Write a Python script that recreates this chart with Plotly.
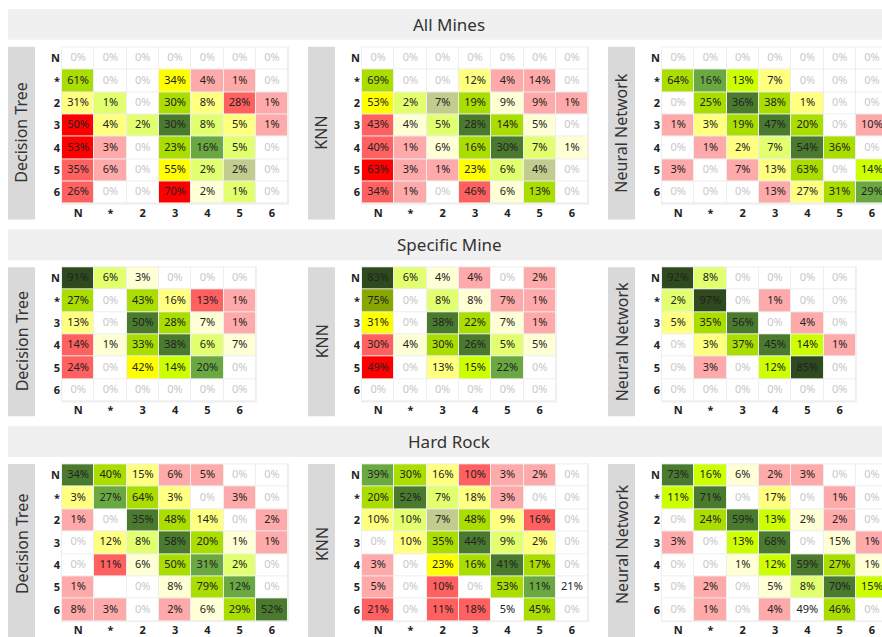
import plotly.graph_objects as go

W, H = 882, 637
FONT = "Noto Sans"

section_titles = ["All Mines", "Specific Mine", "Hard Rock"]
model_names = ["Decision Tree", "KNN", "Neural Network"]

labels_full = ["N", "*", "2", "3", "4", "5", "6"]
labels_specific = ["N", "*", "3", "4", "5", "6"]

# ---- All Mines ----
all_dt_val = [
    [0, 0, 0, 0, 0, 0, 0],
    [61, 0, 0, 34, 4, 1, 0],
    [31, 1, 0, 30, 8, 28, 1],
    [50, 4, 2, 30, 8, 5, 1],
    [53, 3, 0, 23, 16, 5, 0],
    [35, 6, 0, 55, 2, 2, 0],
    [26, 0, 0, 70, 2, 1, 0],
]
all_dt_cls = ["wwwwwww", "gwwYppw", "ylwgyrp", "Ryldlyp", "Rpwgmlw", "rpwYlow", "rwwRclw"]

all_knn_val = [
    [0, 0, 0, 0, 0, 0, 0],
    [69, 0, 0, 12, 4, 14, 0],
    [53, 2, 7, 19, 9, 9, 1],
    [43, 4, 5, 28, 14, 5, 0],
    [40, 1, 6, 16, 30, 7, 1],
    [63, 3, 1, 23, 6, 4, 0],
    [34, 1, 0, 46, 6, 13, 0],
]
all_knn_cls = ["wwwwwww", "gwwyppw", "Ylogcpp", "rcldgcw", "rpcgdlc", "RppYlow", "rpwrcgw"]

all_nn_val = [
    [0, 0, 0, 0, 0, 0, 0],
    [64, 16, 13, 7, 0, 0, 0],
    [0, 25, 36, 38, 1, 0, 0],
    [1, 3, 19, 47, 20, 0, 10],
    [0, 1, 2, 7, 54, 36, 0],
    [3, 0, 7, 13, 63, 0, 14],
    [0, 0, 0, 13, 27, 31, 29],
]
all_nn_cls = ["wwwwwww", "gmLywww", "wgdgyww", "pygdgwp", "wpyldgw", "pwpygwL", "wwwpygm"]

# ---- Specific Mine ----
spec_dt_val = [
    [91, 6, 3, 0, 0, 0],
    [27, 0, 43, 16, 13, 1],
    [13, 0, 50, 28, 7, 1],
    [14, 1, 33, 38, 6, 7],
    [24, 0, 42, 14, 20, 0],
    [0, 0, 0, 0, 0, 0],
]
spec_dt_cls = ["Dlcwww", "gwgyrp", "ywdgcp", "rcgdlc", "rwYLmw", "wwwwww"]

spec_knn_val = [
    [83, 6, 4, 4, 0, 2],
    [75, 0, 8, 8, 7, 1],
    [31, 0, 38, 22, 7, 1],
    [30, 4, 30, 26, 5, 5],
    [49, 0, 13, 15, 22, 0],
    [0, 0, 0, 0, 0, 0],
]
spec_knn_cls = ["Dlcpwp", "Owlcpp", "Ywdgcp", "rcgdlc", "RwyLmw", "wwwwww"]

spec_nn_val = [
    [92, 8, 0, 0, 0, 0],
    [2, 97, 0, 1, 0, 0],
    [5, 35, 56, 0, 4, 0],
    [0, 3, 37, 45, 14, 1],
    [0, 3, 0, 12, 85, 0],
    [0, 0, 0, 0, 0, 0],
]
spec_nn_cls = ["Dlwwww", "lDwpww", "ygdwpw", "wygdLp", "wpwLDw", "wwwwww"]

# ---- Hard Rock ----
hard_dt_val = [
    [34, 40, 15, 6, 5, 0, 0],
    [3, 27, 64, 3, 0, 3, 0],
    [1, 0, 35, 48, 14, 0, 2],
    [0, 12, 8, 58, 20, 1, 1],
    [0, 11, 6, 50, 31, 2, 0],
    [1, None, 0, 8, 79, 12, 0],
    [8, 3, 0, 2, 6, 29, 52],
]
hard_dt_cls = ["dgyppww", "ymgywpw", "pwdgywp", "wyldgcp", "wrcgmlw", "pwwcgmw", "ppwpcgd"]

hard_knn_val = [
    [39, 30, 16, 10, 3, 2, 0],
    [20, 52, 7, 18, 3, 0, 0],
    [10, 10, 7, 48, 9, 16, 0],
    [0, 10, 35, 44, 9, 2, 0],
    [3, 0, 23, 16, 41, 17, 0],
    [5, 0, 10, 0, 53, 11, 21],
    [21, 0, 11, 18, 5, 45, 0],
]
hard_knn_cls = ["mgyrppw", "gdlypww", "ylogyrw", "wygdlyw", "pwYgdgw", "pwrwgmw", "rwrrwgw"]

hard_nn_val = [
    [73, 16, 6, 2, 3, 0, 0],
    [11, 71, 0, 17, 0, 1, 0],
    [0, 24, 59, 13, 2, 2, 0],
    [3, 0, 13, 68, 0, 15, 1],
    [0, 0, 1, 12, 59, 27, 1],
    [0, 2, 0, 5, 8, 70, 15],
    [0, 1, 0, 4, 49, 46, 0],
]
hard_nn_cls = ["dLcppww", "Ldwywpw", "wgdLcpw", "pwLdwcp", "wwcLdgc", "wpwcldL", "wpwpwgw"]

# cell fill classes
palette = {
    "w": "#ffffff",  # empty
    "p": "#ffaaaa",  # pink
    "r": "#ff6060",  # salmon
    "R": "#ff0000",  # red
    "Y": "#ffff00",  # yellow
    "y": "#ffff80",  # light yellow
    "c": "#ffffd5",  # cream
    "l": "#e2ff70",  # pale lime
    "L": "#ccff00",  # lime
    "g": "#aadd00",  # yellow green
    "o": "#c2cc8e",  # olive grey
    "O": "#88a800",  # olive
    "m": "#6aa842",  # mid green
    "d": "#4a7a2e",  # dark green
    "D": "#2e4a1e",  # deepest green
}
codes = list(palette.keys())
n_codes = len(codes)
colorscale = []
for i, k in enumerate(codes):
    colorscale.append([i / n_codes, palette[k]])
    colorscale.append([(i + 1) / n_codes, palette[k]])

panels = [
    [(all_dt_val, all_dt_cls), (all_knn_val, all_knn_cls), (all_nn_val, all_nn_cls)],
    [(spec_dt_val, spec_dt_cls), (spec_knn_val, spec_knn_cls), (spec_nn_val, spec_nn_cls)],
    [(hard_dt_val, hard_dt_cls), (hard_knn_val, hard_knn_cls), (hard_nn_val, hard_nn_cls)],
]
section_labels = [labels_full, labels_specific, labels_full]

# pixel geometry
cell_w = 32.3
panel_x0 = [62, 362, 662]
box_x = [(8, 35), (308, 335), (608, 635)]
cells_y = [(47.7, 205.0), (269.0, 404.0), (467.3, 625.0)]
bar_y = [(9, 40), (231, 262), (429, 460)]
box_y = [(47, 221), (269, 419), (467, 645)]
label_mid_y = [134, 344, 548]

fig = go.Figure()
layout_axes = {}
shapes = []
annotations = []
pad = 1.0
idx = 0

tick_font = dict(family=FONT, size=11, color="#222222", weight="bold")

for s in range(3):
    labs = section_labels[s]
    n = len(labs)
    y_top, y_bot = cells_y[s]
    cell_h = (y_bot - y_top) / n
    for m in range(3):
        vals, cls = panels[s][m]
        idx += 1
        xa = "x" if idx == 1 else f"x{idx}"
        ya = "y" if idx == 1 else f"y{idx}"
        xkey = "xaxis" if idx == 1 else f"xaxis{idx}"
        ykey = "yaxis" if idx == 1 else f"yaxis{idx}"

        x0 = panel_x0[m]
        x1 = x0 + cell_w * n
        d0, d1 = x0 - pad, x1 + pad
        r0 = -0.5 - pad / cell_w
        r1 = n - 0.5 + pad / cell_w
        if d1 > W:
            r1 -= (d1 - W) / cell_w
            d1 = W
        yd0 = 1 - (y_bot + pad) / H
        yd1 = 1 - (y_top - pad) / H
        yr_top = -0.5 - pad / cell_h
        yr_bot = n - 0.5 + pad / cell_h

        z = [[codes.index(ch) for ch in row] for row in cls]
        fig.add_trace(go.Heatmap(
            z=z, x=list(range(n)), y=list(range(n)),
            colorscale=colorscale, zmin=0, zmax=n_codes,
            showscale=False, xgap=1, ygap=1,
            hoverinfo="skip", xaxis=xa, yaxis=ya,
        ))

        tx, ty, tt, tc = [], [], [], []
        for r in range(n):
            for c in range(n):
                v = vals[r][c]
                if v is None:
                    continue
                tx.append(c)
                ty.append(r)
                tt.append(f"{v}%")
                tc.append("#c8c8c8" if v == 0 else "#222222")
        fig.add_trace(go.Scatter(
            x=tx, y=ty, text=tt, mode="text",
            textfont=dict(family=FONT, size=11, color=tc),
            textposition="middle center", cliponaxis=True,
            hoverinfo="skip", showlegend=False, xaxis=xa, yaxis=ya,
        ))

        layout_axes[xkey] = dict(
            domain=[d0 / W, d1 / W], range=[r0, r1], anchor=ya,
            tickvals=list(range(n)), ticktext=labs, tickfont=tick_font,
            showgrid=False, zeroline=False, showline=False, ticks="",
            fixedrange=True,
        )
        layout_axes[ykey] = dict(
            domain=[yd0, yd1], range=[yr_bot, yr_top], anchor=xa,
            tickvals=list(range(n)), ticktext=labs, tickfont=tick_font,
            showgrid=False, zeroline=False, showline=False, ticks="",
            fixedrange=True,
        )

        bx0, bx1 = box_x[m]
        by0, by1 = box_y[s]
        shapes.append(dict(
            type="rect", xref="paper", yref="paper",
            x0=bx0 / W, x1=bx1 / W, y0=1 - by1 / H, y1=1 - by0 / H,
            fillcolor="#d9d9d9", line=dict(width=0), layer="below",
        ))
        annotations.append(dict(
            text=model_names[m], xref="paper", yref="paper",
            x=(bx0 + bx1) / 2 / W, y=1 - label_mid_y[s] / H,
            textangle=-90, showarrow=False,
            font=dict(family=FONT, size=16, color="#333333"),
            xanchor="center", yanchor="middle",
        ))

    t0, t1 = bar_y[s]
    shapes.append(dict(
        type="rect", xref="paper", yref="paper",
        x0=8 / W, x1=1, y0=1 - t1 / H, y1=1 - t0 / H,
        fillcolor="#f0f0f0", line=dict(width=0), layer="below",
    ))
    annotations.append(dict(
        text=section_titles[s], xref="paper", yref="paper",
        x=449 / W, y=1 - (t0 + t1) / 2 / H, showarrow=False,
        font=dict(family=FONT, size=17, color="#333333"),
        xanchor="center", yanchor="middle",
    ))

fig.update_layout(
    width=W, height=H,
    margin=dict(l=0, r=0, t=0, b=0),
    paper_bgcolor="#ffffff", plot_bgcolor="#eeeeee",
    showlegend=False, shapes=shapes, annotations=annotations,
    **layout_axes,
)

fig.write_html("out.html")
